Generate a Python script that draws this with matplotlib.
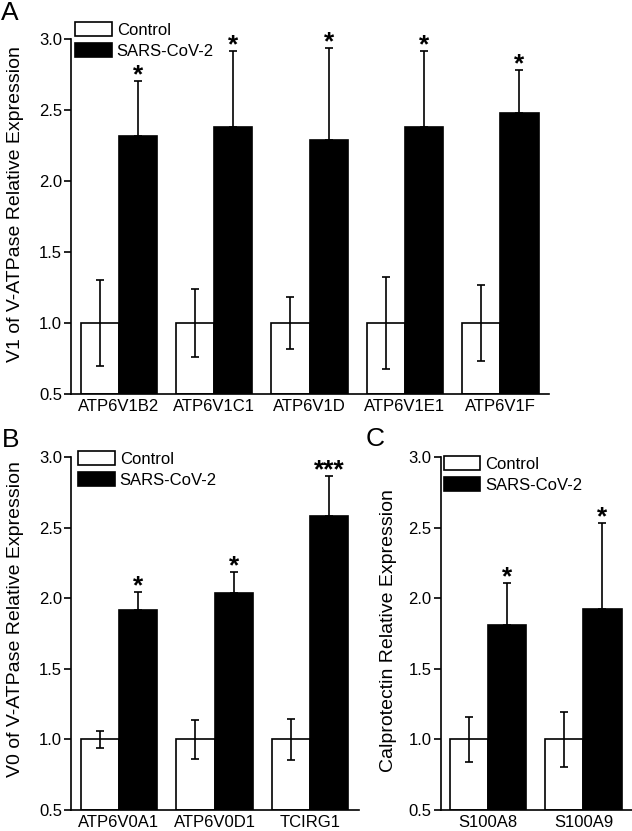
import matplotlib
matplotlib.use('Agg')
import matplotlib.pyplot as plt
from matplotlib.patches import Patch

plt.rcParams['font.family'] = ['Liberation Sans', 'DejaVu Sans']

# panel A - V1 subunits
genes_a = ['ATP6V1B2', 'ATP6V1C1', 'ATP6V1D', 'ATP6V1E1', 'ATP6V1F']
ctrl_a = [1.0, 1.0, 1.0, 1.0, 1.0]
ctrl_err_a = [0.306, 0.238, 0.18, 0.321, 0.265]
sars_a = [2.32, 2.38, 2.29, 2.38, 2.48]
sars_err_a = [0.385, 0.536, 0.645, 0.536, 0.305]
stars_a = ['*', '*', '*', '*', '*']

# panel B - V0 subunits
genes_b = ['ATP6V0A1', 'ATP6V0D1', 'TCIRG1']
ctrl_b = [1.0, 1.0, 1.0]
ctrl_err_b = [0.062, 0.139, 0.148]
sars_b = [1.915, 2.035, 2.58]
sars_err_b = [0.13, 0.153, 0.285]
stars_b = ['*', '*', '***']

# panel C - calprotectin
genes_c = ['S100A8', 'S100A9']
ctrl_c = [1.0, 1.0]
ctrl_err_c = [0.161, 0.196]
sars_c = [1.808, 1.925]
sars_err_c = [0.30, 0.608]
stars_c = ['*', '*']

yticks = [0.5, 1.0, 1.5, 2.0, 2.5, 3.0]
bw = 0.4
lw = 1.2
W, H = 632, 831


def draw_panel(ax, genes, ctrl, ctrl_err, sars, sars_err, stars, leg_pos):
    n = len(genes)
    xs = list(range(n))
    xc = [x - bw / 2 for x in xs]
    xsr = [x + bw / 2 for x in xs]
    # bars start at 0.5 (bottom of axis)
    ax.bar(xc, [v - 0.5 for v in ctrl], bw, bottom=0.5, color='white',
           edgecolor='black', linewidth=lw, zorder=2)
    ax.bar(xsr, [v - 0.5 for v in sars], bw, bottom=0.5, color='black',
           edgecolor='black', linewidth=lw, zorder=2)
    ax.errorbar(xc, ctrl, yerr=ctrl_err, fmt='none', ecolor='black',
                elinewidth=lw, capsize=3.2, capthick=lw, zorder=3)
    ax.errorbar(xsr, sars, yerr=[[0] * n, sars_err], fmt='none', ecolor='black',
                elinewidth=lw, capsize=3.2, capthick=lw, zorder=1)
    for i in range(n):
        ax.annotate(stars[i], (xsr[i], sars[i] + sars_err[i]), xytext=(0, -1),
                    textcoords='offset points', ha='center', va='baseline',
                    fontsize=19, fontweight='bold')
    ax.set_xlim(-0.5, n - 1 + 0.51)
    ax.set_ylim(0.5, 3.0)
    ax.set_yticks(yticks)
    ax.set_yticklabels(['%.1f' % t for t in yticks])
    ax.set_xticks(xs)
    ax.set_xticklabels(genes)
    ax.tick_params(axis='x', length=0, labelsize=12, pad=3.5)
    ax.tick_params(axis='y', direction='out', length=5, width=lw, labelsize=12, pad=1.5)
    ax.spines['top'].set_visible(False)
    ax.spines['right'].set_visible(False)
    ax.spines['left'].set_linewidth(lw)
    ax.spines['bottom'].set_linewidth(lw)
    handles = [Patch(facecolor='white', edgecolor='black', linewidth=lw),
               Patch(facecolor='black', edgecolor='black', linewidth=lw)]
    ax.legend(handles, ['Control', 'SARS-CoV-2'], loc='upper left',
              bbox_to_anchor=leg_pos, frameon=False, fontsize=12,
              handlelength=2.2, handleheight=0.95, handletextpad=0.3,
              labelspacing=0.3, borderpad=0, borderaxespad=0)


fig = plt.figure(figsize=(W / 100, H / 100), dpi=100)
# axes placed in pixels: left, top, right, bottom
ax_a = fig.add_axes([71 / W, 1 - 394 / H, 478 / W, 355 / H])
ax_b = fig.add_axes([71 / W, 1 - 810 / H, 288 / W, 353 / H])
ax_c = fig.add_axes([440.7 / W, 1 - 810 / H, 191.3 / W, 353 / H])

draw_panel(ax_a, genes_a, ctrl_a, ctrl_err_a, sars_a, sars_err_a, stars_a,
           (4 / 478, 1 + 17 / 355))
draw_panel(ax_b, genes_b, ctrl_b, ctrl_err_b, sars_b, sars_err_b, stars_b,
           (7 / 288, 1 + 6 / 353))
draw_panel(ax_c, genes_c, ctrl_c, ctrl_err_c, sars_c, sars_err_c, stars_c,
           (3 / 191.3, 1 + 1 / 353))

fig.text(16 / W, 1 - 204 / H, 'V1 of V-ATPase Relative Expression', fontsize=14,
         rotation=90, ha='center', va='center')
fig.text(16 / W, 1 - 619 / H, 'V0 of V-ATPase Relative Expression', fontsize=14,
         rotation=90, ha='center', va='center')
fig.text(389 / W, 1 - 631 / H, 'Calprotectin Relative Expression', fontsize=14,
         rotation=90, ha='center', va='center')

fig.text(1 / W, 1 - 1 / H, 'A', fontsize=19, va='top', ha='left')
fig.text(2 / W, 1 - 428 / H, 'B', fontsize=19, va='top', ha='left')
fig.text(366 / W, 1 - 427 / H, 'C', fontsize=19, va='top', ha='left')

fig.savefig('out.png', dpi=100)
